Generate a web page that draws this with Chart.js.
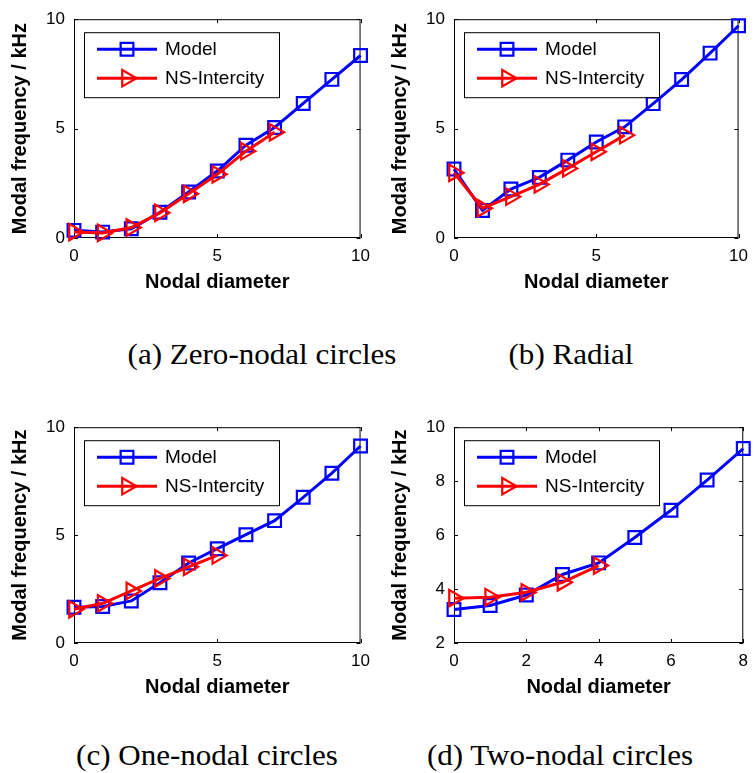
<!DOCTYPE html>
<html>
<head>
<meta charset="utf-8">
<script src="https://cdn.jsdelivr.net/npm/chart.js@4.4.1/dist/chart.umd.min.js"></script>
<style>
  body { margin: 0; background: #fff; }
  #wrap { position: relative; width: 756px; height: 773px; background: #fff; overflow: hidden; }
  #wrap canvas { position: absolute; }
  .cap { position: absolute; font-family: "Liberation Serif", "Times New Roman", serif; font-size: 29px;
         color: #000; white-space: nowrap; transform: translate(-50%, -50%) scaleX(1.07); }
</style>
</head>
<body>
<div id="wrap">
  <canvas id="pa" width="378" height="300" style="left:0;top:0"></canvas>
  <canvas id="pb" width="378" height="300" style="left:378px;top:0"></canvas>
  <canvas id="pc" width="378" height="300" style="left:0;top:408px"></canvas>
  <canvas id="pd" width="378" height="300" style="left:378px;top:408px"></canvas>
  <div class="cap" style="left:262px;top:354px">(a) Zero-nodal circles</div>
  <div class="cap" style="left:571px;top:354px">(b) Radial</div>
  <div class="cap" style="left:207px;top:755px">(c) One-nodal circles</div>
  <div class="cap" style="left:560px;top:755px">(d) Two-nodal circles</div>
</div>
<script>
/* data, kHz */
const zeroModelX = [0, 1, 2, 3, 4, 5, 6, 7, 8, 9, 10];
const zeroModel  = [0.35, 0.27, 0.42, 1.18, 2.1, 3.06, 4.24, 5.05, 6.15, 7.25, 8.34];
const zeroNSX    = [0, 1, 2, 3, 4, 5, 6, 7];
const zeroNS     = [0.27, 0.23, 0.48, 1.15, 2.02, 2.91, 3.97, 4.83];

const radModelX = [0, 1, 2, 3, 4, 5, 6, 7, 8, 9, 10];
const radModel  = [3.15, 1.26, 2.24, 2.77, 3.56, 4.39, 5.08, 6.14, 7.24, 8.45, 9.7];
const radNSX    = [0, 1, 2, 3, 4, 5, 6];
const radNS     = [2.98, 1.36, 1.89, 2.45, 3.18, 3.94, 4.7];

const oneModelX = [0, 1, 2, 3, 4, 5, 6, 7, 8, 9, 10];
const oneModel  = [1.66, 1.69, 1.95, 2.79, 3.71, 4.37, 5.02, 5.67, 6.75, 7.87, 9.13];
const oneNSX    = [0, 1, 2, 3, 4, 5];
const oneNS     = [1.56, 1.84, 2.41, 2.99, 3.53, 4.06];

const twoModelX = [0, 1, 2, 3, 4, 5, 6, 7, 8];
const twoModel  = [3.24, 3.39, 3.78, 4.54, 4.97, 5.91, 6.92, 8.04, 9.21];
const twoNSX    = [0, 1, 2, 3, 4];
const twoNS     = [3.66, 3.70, 3.88, 4.25, 4.87];

const seriesNames = ['Model', 'NS-Intercity'];
const xTitle = 'Nodal diameter';
const yTitle = 'Modal frequency / kHz';

const BLUE = '#0000ff', RED = '#ff0000';
const SANS = '"Liberation Sans", Arial, sans-serif';

function pts(xs, ys){ return xs.map((x, i) => ({x: x, y: ys[i]})); }

// square / right-pointing triangle, same shapes as the chart markers
function marker(ctx, style, x, y, r){
  ctx.beginPath();
  if(style === 'rect'){
    const s = r * Math.SQRT1_2;
    ctx.rect(x - s, y - s, 2 * s, 2 * s);
  } else {
    let a = Math.PI / 2;
    ctx.moveTo(x + Math.sin(a) * r, y - Math.cos(a) * r);
    a += 2 * Math.PI / 3;
    ctx.lineTo(x + Math.sin(a) * r, y - Math.cos(a) * r);
    a += 2 * Math.PI / 3;
    ctx.lineTo(x + Math.sin(a) * r, y - Math.cos(a) * r);
    ctx.closePath();
  }
  ctx.stroke();
}

const boxPlugin = {
  id: 'matlabBox',
  beforeDatasetsDraw(chart){
    const {ctx, chartArea: a, scales} = chart;
    ctx.save();
    ctx.strokeStyle = '#000';
    ctx.lineWidth = 1;
    ctx.strokeRect(a.left + 0.5, a.top + 0.5, a.right - a.left - 1, a.bottom - a.top - 1);
    // inward tick marks on all four sides
    const tl = 4;
    ctx.beginPath();
    scales.x.ticks.forEach(t => {
      const px = Math.round(scales.x.getPixelForValue(t.value)) + 0.5;
      ctx.moveTo(px, a.bottom); ctx.lineTo(px, a.bottom - tl);
      ctx.moveTo(px, a.top); ctx.lineTo(px, a.top + tl);
    });
    scales.y.ticks.forEach(t => {
      const py = Math.round(scales.y.getPixelForValue(t.value)) + 0.5;
      ctx.moveTo(a.left, py); ctx.lineTo(a.left + tl, py);
      ctx.moveTo(a.right, py); ctx.lineTo(a.right - tl, py);
    });
    ctx.stroke();
    ctx.restore();
  },
  afterDatasetsDraw(chart){
    const {ctx, chartArea: a} = chart;
    const bx = a.left + 10, by = a.top + 13, bw = 195, bh = 65;
    ctx.save();
    ctx.fillStyle = '#fff';
    ctx.fillRect(bx, by, bw, bh);
    ctx.strokeStyle = '#000';
    ctx.lineWidth = 1;
    ctx.strokeRect(bx + 0.5, by + 0.5, bw, bh);
    const rows = [
      {c: BLUE, s: 'rect', r: 9, y: by + 17},
      {c: RED, s: 'triangle', r: 9.5, y: by + 46}
    ];
    ctx.font = '19px ' + SANS;
    ctx.textBaseline = 'middle';
    rows.forEach((row, i) => {
      ctx.strokeStyle = row.c;
      ctx.lineWidth = 3;
      ctx.beginPath();
      ctx.moveTo(bx + 13, row.y); ctx.lineTo(bx + 73, row.y);
      ctx.stroke();
      ctx.lineWidth = 2.2;
      marker(ctx, row.s, bx + 43, row.y, row.r);
      ctx.fillStyle = '#000';
      ctx.fillText(seriesNames[i], bx + 81, row.y + 1);
    });
    ctx.restore();
  }
};

function makePanel(id, p){
  const ctx = document.getElementById(id);
  return new Chart(ctx, {
    type: 'line',
    plugins: [boxPlugin],
    data: {
      datasets: [{
        label: seriesNames[0],
        data: pts(p.mx, p.my),
        borderColor: BLUE,
        backgroundColor: 'rgba(0,0,0,0)',
        borderWidth: 3,
        pointStyle: 'rect',
        pointRadius: 9,
        pointBorderWidth: 2.2,
        pointBorderColor: BLUE,
        pointBackgroundColor: 'rgba(0,0,0,0)',
        tension: 0,
        clip: false,
        order: 2
      }, {
        label: seriesNames[1],
        data: pts(p.nx, p.ny),
        borderColor: RED,
        backgroundColor: 'rgba(0,0,0,0)',
        borderWidth: 3,
        pointStyle: 'triangle',
        pointRotation: 90,
        pointRadius: 9.5,
        pointBorderWidth: 2.2,
        pointBorderColor: RED,
        pointBackgroundColor: 'rgba(0,0,0,0)',
        tension: 0,
        clip: false,
        order: 1
      }]
    },
    options: {
      responsive: false,
      animation: false,
      events: [],
      layout: { padding: { left: 0, top: p.top, right: p.right, bottom: 0 } },
      plugins: { legend: false, tooltip: { enabled: false } },
      scales: {
        x: {
          type: 'linear',
          min: p.xmin, max: p.xmax,
          grid: { display: false, drawTicks: false },
          border: { display: false },
          ticks: { stepSize: p.xstep, padding: 8, color: '#000', font: { family: SANS, size: 17 } },
          title: { display: true, text: xTitle, color: '#000',
                   font: { family: SANS, size: 20, weight: 'bold' },
                   padding: { top: 0, bottom: p.xtp } },
          afterFit: s => { s.height = p.xh; }
        },
        y: {
          type: 'linear',
          min: p.ymin, max: p.ymax,
          grid: { display: false, drawTicks: false },
          border: { display: false },
          ticks: { stepSize: p.ystep, padding: 9, color: '#000', font: { family: SANS, size: 17 } },
          title: { display: true, text: yTitle, color: '#000',
                   font: { family: SANS, size: 20, weight: 'bold' },
                   padding: { top: p.ytp, bottom: 0 } },
          afterFit: s => { s.width = p.yw; }
        }
      }
    }
  });
}

makePanel('pa', { mx: zeroModelX, my: zeroModel, nx: zeroNSX, ny: zeroNS,
  xmin: 0, xmax: 10, xstep: 5, ymin: 0, ymax: 10, ystep: 5,
  top: 18, right: 15, yw: 74, xh: 62, xtp: 5.5, ytp: 8 });
makePanel('pb', { mx: radModelX, my: radModel, nx: radNSX, ny: radNS,
  xmin: 0, xmax: 10, xstep: 5, ymin: 0, ymax: 10, ystep: 5,
  top: 18, right: 11, yw: 76, xh: 62, xtp: 5.5, ytp: 10 });
makePanel('pc', { mx: oneModelX, my: oneModel, nx: oneNSX, ny: oneNS,
  xmin: 0, xmax: 10, xstep: 5, ymin: 0, ymax: 10, ystep: 5,
  top: 18, right: 15, yw: 74, xh: 65, xtp: 8.5, ytp: 8 });
makePanel('pd', { mx: twoModelX, my: twoModel, nx: twoNSX, ny: twoNS,
  xmin: 0, xmax: 8, xstep: 2, ymin: 2, ymax: 10, ystep: 2,
  top: 18, right: 11, yw: 76, xh: 65, xtp: 8.5, ytp: 10 });
</script>
</body>
</html>
